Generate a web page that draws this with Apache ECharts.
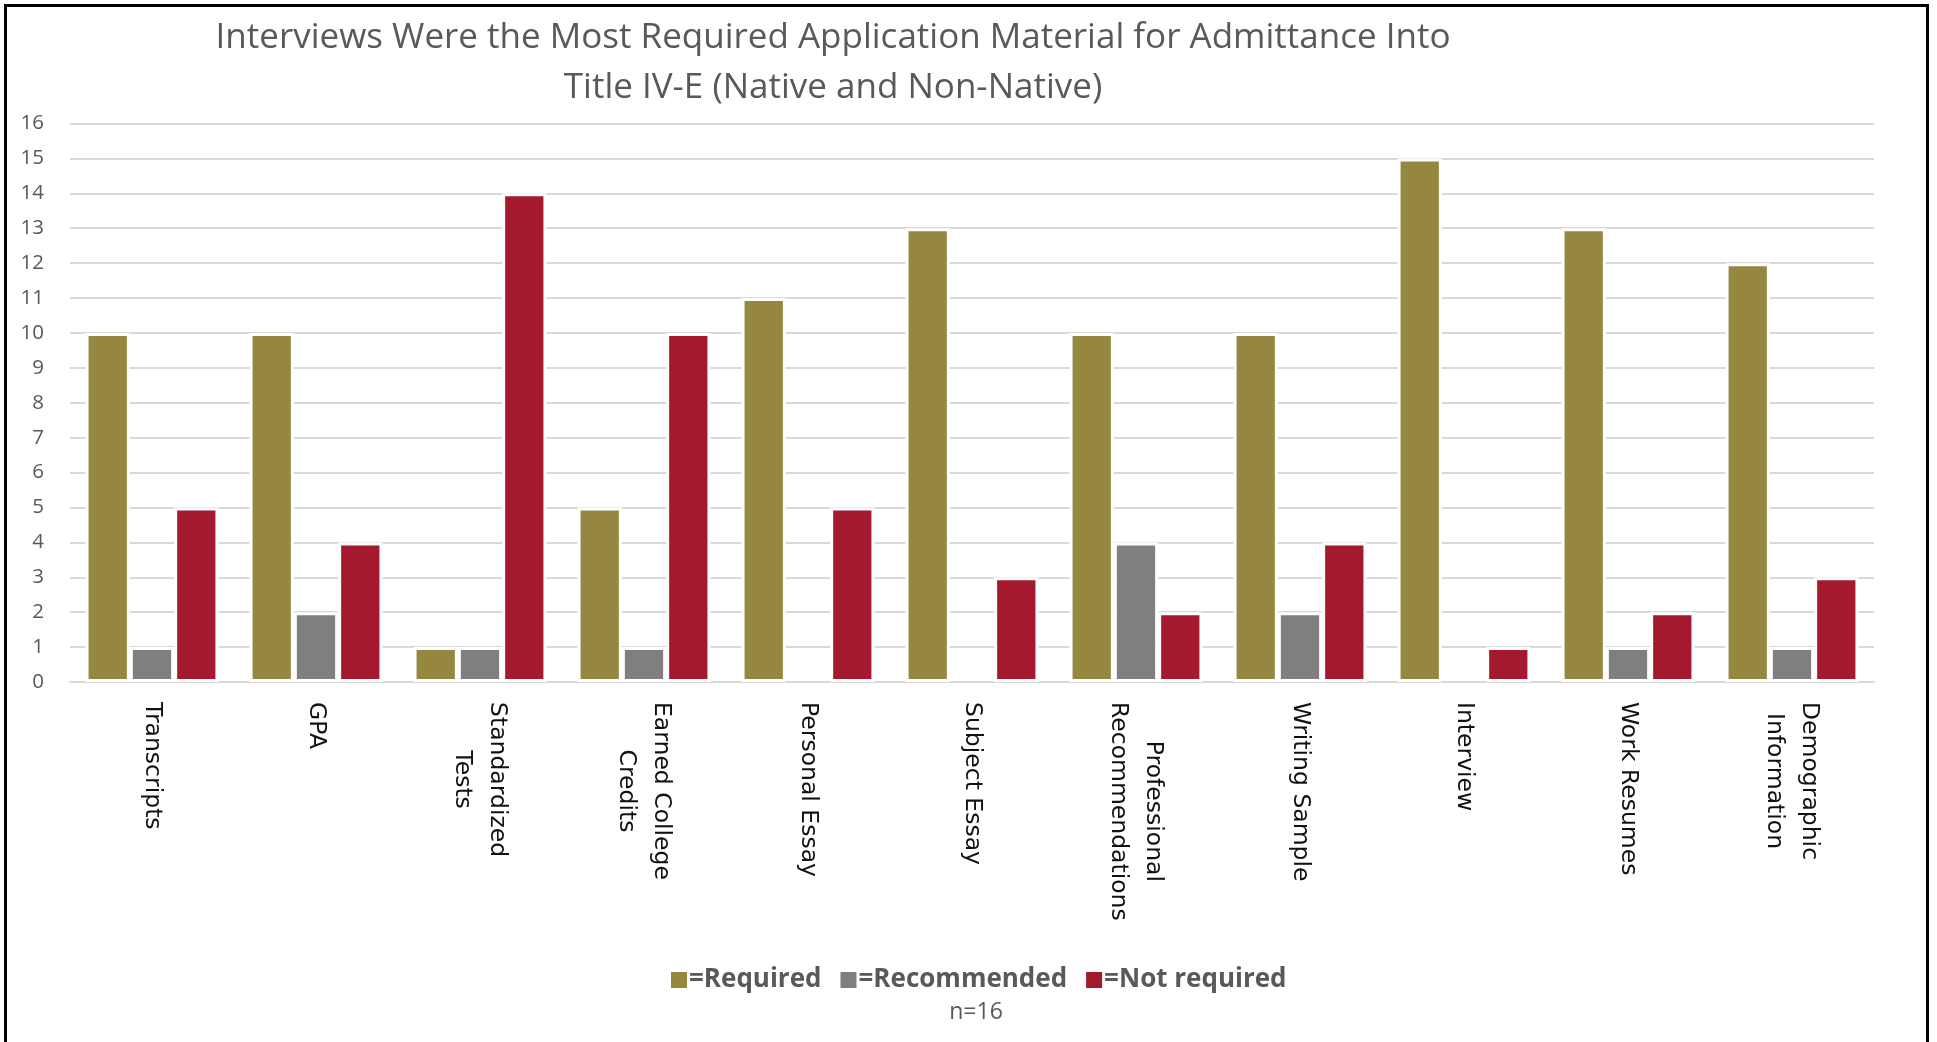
<!DOCTYPE html>
<html>
<head>
<meta charset="utf-8">
<script src="https://cdn.jsdelivr.net/npm/echarts@6/dist/echarts.min.js"></script>
<style>
  html, body { margin: 0; padding: 0; background: #fff; }
  #chart { width: 1937px; height: 1042px; }
</style>
</head>
<body>
<div id="chart"></div>
<script>
const categories = [
  'Transcripts', 'GPA', 'Standardized\nTests', 'Earned College\nCredits', 'Personal Essay',
  'Subject Essay', 'Professional\nRecommendations', 'Writing Sample', 'Interview',
  'Work Resumes', 'Demographic\nInformation'
];
const required    = [10, 10, 1, 5, 11, 13, 10, 10, 15, 13, 12];
const recommended = [1, 2, 1, 1, 0, 0, 4, 2, 0, 1, 1];
const notRequired = [5, 4, 14, 10, 5, 3, 2, 4, 1, 2, 3];
const yTicks = [0, 16, 1]; // min, max, interval

const titleLines = [
  'Interviews Were the Most Required Application Material for Admittance Into',
  'Title IV-E (Native and Non-Native)'
];
const note = 'n=16';

const colors = { required: '#958640', recommended: '#7F7F7F', notRequired: '#A5192E' };

function toData(arr) {
  return arr.map(v => v === 0 ? { value: 0, itemStyle: { borderWidth: 0 } } : v);
}

const chart = echarts.init(document.getElementById('chart'), null, { renderer: 'canvas' });

const barStyle = (c) => ({ color: c, borderColor: '#ffffff', borderWidth: 3 });

chart.setOption({
  backgroundColor: '#ffffff',
  animation: false,
  graphic: [
    {
      type: 'rect', z: 100, silent: true,
      shape: { x: 5.5, y: 5.5, width: 1922, height: 1060 },
      style: { fill: 'none', stroke: '#000', lineWidth: 3 }
    },
    {
      type: 'text', x: 833, y: 38, z: 10,
      style: { text: titleLines[0], align: 'center', verticalAlign: 'middle',
               font: '35px "Open Sans", "Noto Sans", sans-serif', fill: '#595959' }
    },
    {
      type: 'text', x: 833, y: 88, z: 10,
      style: { text: titleLines[1], align: 'center', verticalAlign: 'middle',
               font: '35px "Open Sans", "Noto Sans", sans-serif', fill: '#595959' }
    },
    {
      type: 'text', x: 976, y: 1012, z: 10,
      style: { text: note, align: 'center', verticalAlign: 'middle',
               font: '23px "Open Sans", "Noto Sans", sans-serif', fill: '#595959' }
    }
  ],
  legend: {
    left: 664, top: 962,
    icon: 'rect', itemWidth: 18, itemHeight: 18, itemGap: 17,
    formatter: '={name}',
    textStyle: { fontFamily: '"Open Sans", "Noto Sans", sans-serif', fontWeight: 'bold', fontSize: 26, color: '#595959', padding: [0, 0, 0, -4] },
    data: ['Required', 'Recommended', 'Not required']
  },
  grid: { left: 70, right: 63, top: 123.5, bottom: 360, containLabel: false },
  xAxis: {
    type: 'category',
    data: categories,
    axisTick: { show: false },
    axisLine: { lineStyle: { color: '#D9D9D9', width: 2 } },
    axisLabel: {
      rotate: -90, margin: 20, interval: 0,
      formatter: (v) => v.split('\n').map(s => '{c|' + s + '}').join('\n'),
      rich: { c: { align: 'center', fontFamily: '"DejaVu Sans", sans-serif', fontSize: 23.5, color: '#111111', lineHeight: 35 } }
    }
  },
  yAxis: {
    type: 'value', min: yTicks[0], max: yTicks[1], interval: yTicks[2],
    axisLine: { show: false }, axisTick: { show: false },
    axisLabel: { fontFamily: '"Open Sans", "Noto Sans", sans-serif', fontSize: 20.5, color: '#595959', margin: 26 },
    splitLine: { lineStyle: { color: '#D9D9D9', width: 2 } }
  },
  series: [
    { name: 'Required', type: 'bar', data: toData(required), barGap: '0%', barCategoryGap: '19%', itemStyle: barStyle(colors.required) },
    { name: 'Recommended', type: 'bar', data: toData(recommended), itemStyle: barStyle(colors.recommended) },
    { name: 'Not required', type: 'bar', data: toData(notRequired), itemStyle: barStyle(colors.notRequired) }
  ]
});
</script>
</body>
</html>
